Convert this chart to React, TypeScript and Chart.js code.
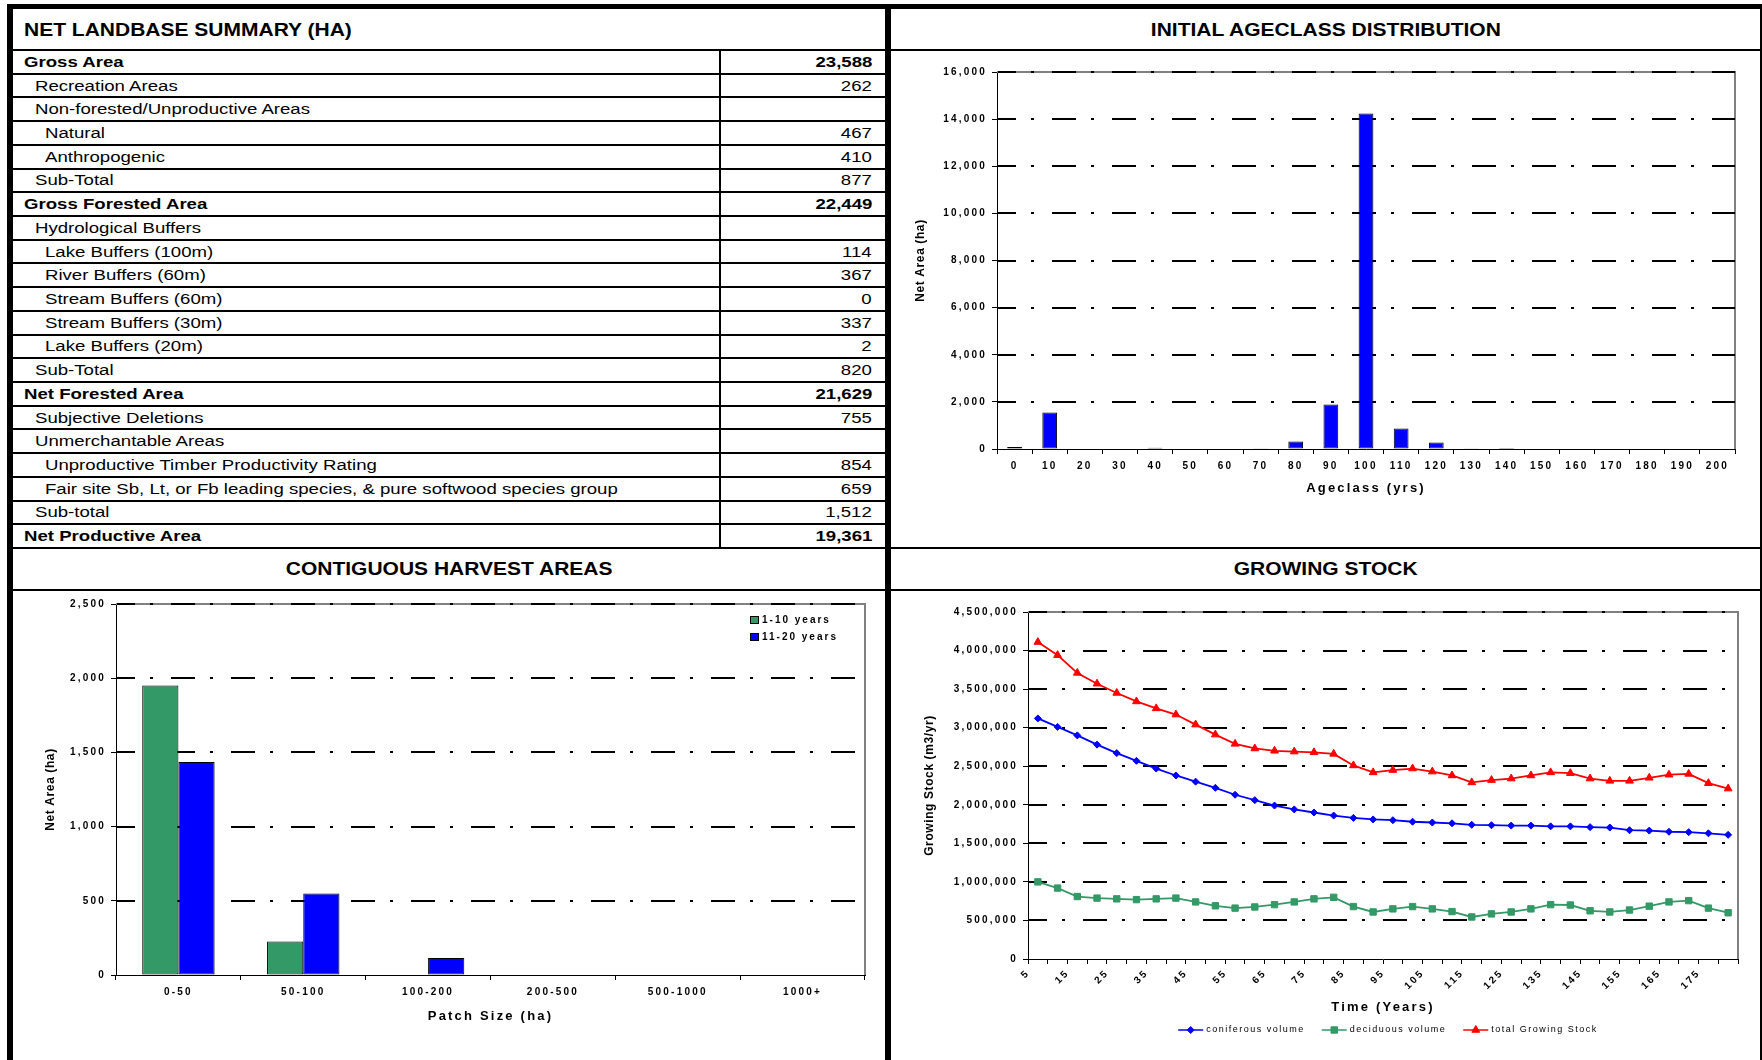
import React, { useEffect, useRef } from 'react';
import { Chart, registerables } from 'chart.js';

Chart.register(...registerables);

const FONT = '"Liberation Sans", Arial, Helvetica, sans-serif';

// ---------- Net landbase summary table ----------
const summaryLabels = [
  'Gross Area',
  'Recreation Areas',
  'Non-forested/Unproductive Areas',
  'Natural',
  'Anthropogenic',
  'Sub-Total',
  'Gross Forested Area',
  'Hydrological Buffers',
  'Lake Buffers (100m)',
  'River Buffers (60m)',
  'Stream Buffers (60m)',
  'Stream Buffers (30m)',
  'Lake Buffers (20m)',
  'Sub-Total',
  'Net Forested Area',
  'Subjective Deletions',
  'Unmerchantable Areas',
  'Unproductive Timber Productivity Rating',
  'Fair site Sb, Lt, or Fb leading species, & pure softwood species group',
  'Sub-total',
  'Net Productive Area',
];
const summaryValues = [
  '23,588', '262', '', '467', '410', '877', '22,449', '', '114', '367', '0',
  '337', '2', '820', '21,629', '755', '', '854', '659', '1,512', '19,361',
];
const summaryIndent = [0, 1, 1, 2, 2, 1, 0, 1, 2, 2, 2, 2, 2, 1, 0, 1, 1, 2, 2, 1, 0];

// ---------- Initial ageclass distribution ----------
const ageClasses = ['0', '10', '20', '30', '40', '50', '60', '70', '80', '90', '100', '110', '120', '130', '140', '150', '160', '170', '180', '190', '200'];
const ageClassArea = [85, 1550, 25, 0, 55, 25, 25, 35, 320, 1885, 14240, 870, 280, 30, 45, 0, 0, 0, 0, 0, 0];
const ageAxisMax = 16000;
const ageAxisStep = 2000;

// ---------- Contiguous harvest areas ----------
const patchSizes = ['0-50', '50-100', '100-200', '200-500', '500-1000', '1000+'];
const harvest1to10 = [1950, 225, 0, 0, 0, 0];
const harvest11to20 = [1435, 550, 115, 0, 0, 0];
const harvestAxisMax = 2500;
const harvestAxisStep = 500;

// ---------- Growing stock ----------
const timeYears = ['5', '10', '15', '20', '25', '30', '35', '40', '45', '50', '55', '60', '65', '70', '75', '80', '85', '90', '95', '100', '105', '110', '115', '120', '125', '130', '135', '140', '145', '150', '155', '160', '165', '170', '175', '180'];
const coniferousVolume = [3120000, 3010000, 2900000, 2780000, 2670000, 2570000, 2470000, 2380000, 2300000, 2220000, 2130000, 2060000, 1990000, 1940000, 1900000, 1860000, 1830000, 1810000, 1800000, 1780000, 1770000, 1760000, 1740000, 1735000, 1730000, 1730000, 1720000, 1720000, 1710000, 1705000, 1670000, 1665000, 1650000, 1645000, 1630000, 1610000];
const deciduousVolume = [1000000, 920000, 810000, 790000, 780000, 770000, 780000, 790000, 740000, 690000, 660000, 675000, 705000, 740000, 780000, 800000, 680000, 610000, 650000, 680000, 650000, 615000, 545000, 585000, 610000, 650000, 705000, 700000, 625000, 610000, 635000, 685000, 740000, 757000, 660000, 600000];
const totalGrowingStock = [4110000, 3940000, 3710000, 3570000, 3450000, 3340000, 3250000, 3170000, 3040000, 2910000, 2790000, 2730000, 2700000, 2690000, 2680000, 2660000, 2510000, 2420000, 2450000, 2470000, 2430000, 2380000, 2290000, 2320000, 2340000, 2380000, 2420000, 2410000, 2340000, 2310000, 2310000, 2350000, 2390000, 2400000, 2280000, 2210000];
const stockAxisMax = 4500000;
const stockAxisStep = 500000;

// ---------- helpers ----------
const fmt = (v: any) => Number(v).toLocaleString('en-US');
const tickFont = { family: FONT, size: 10, weight: 'bold' as const };
const axisTitleFont = { family: FONT, size: 13, weight: 'bold' as const };
const yTitleFont = { family: FONT, size: 12, weight: 'bold' as const };

const spacingPlugin = (px: number, yTitlePx: number) => ({
  id: 'letterSpacing',
  beforeUpdate(chart: any) { chart.ctx.letterSpacing = px + 'px'; },
  beforeLayout(chart: any) { chart.ctx.letterSpacing = px + 'px'; },
  afterLayout(chart: any) {
    const s = chart.scales.y;
    if (s && !s.__wrappedTitle) {
      const orig = s.drawTitle.bind(s);
      s.drawTitle = function () {
        const ctx = chart.ctx;
        const prev = ctx.letterSpacing;
        ctx.letterSpacing = yTitlePx + 'px';
        orig();
        ctx.letterSpacing = prev;
      };
      s.__wrappedTitle = true;
    }
  },
  beforeDraw(chart: any) { chart.ctx.letterSpacing = px + 'px'; },
});

const framePlugin = {
  id: 'excelFrame',
  beforeDatasetsDraw(chart: any) {
    const { ctx, chartArea } = chart;
    const { left, right, top, bottom } = chartArea;
    const y = chart.scales.y;
    ctx.save();
    ctx.strokeStyle = '#808080';
    ctx.lineWidth = 2;
    ctx.beginPath();
    ctx.moveTo(left, top);
    ctx.lineTo(right, top);
    ctx.lineTo(right, bottom);
    ctx.stroke();
    ctx.strokeStyle = '#000';
    ctx.lineWidth = 2;
    ctx.setLineDash([24, 15, 3, 18]);
    ctx.lineDashOffset = 6;
    y.ticks.forEach((t: any) => {
      if (t.value === 0) return;
      const py = Math.round(y.getPixelForValue(t.value));
      ctx.beginPath();
      ctx.moveTo(left + 1, py);
      ctx.lineTo(right, py);
      ctx.stroke();
    });
    ctx.restore();
  },
};

function drawMarker(ctx: CanvasRenderingContext2D, style: string, x: number, y: number, color: string) {
  ctx.save();
  ctx.fillStyle = color;
  ctx.strokeStyle = color;
  ctx.lineWidth = 1;
  ctx.setLineDash([]);
  ctx.beginPath();
  if (style === 'rectRot') {
    const r = 3.5;
    ctx.moveTo(x - r, y); ctx.lineTo(x, y - r); ctx.lineTo(x + r, y); ctx.lineTo(x, y + r);
  } else if (style === 'rect') {
    const s = 3.2;
    ctx.rect(x - s, y - s, 2 * s, 2 * s);
  } else {
    const r = 4.5;
    ctx.moveTo(x, y - r); ctx.lineTo(x + r * 0.866, y + r / 2); ctx.lineTo(x - r * 0.866, y + r / 2);
  }
  ctx.closePath();
  ctx.fill();
  ctx.stroke();
  ctx.restore();
}

const stockLegendPlugin = {
  id: 'stockLegend',
  afterDraw(chart: any) {
    const ctx = chart.ctx as CanvasRenderingContext2D;
    ctx.save();
    (ctx as any).letterSpacing = '1.5px';
    ctx.font = `9px ${FONT}`;
    const cx = (chart.chartArea.left + chart.chartArea.right) / 2 + 5;
    const y = chart.height - 30;
    const items = chart.data.datasets.map((ds: any) => ({ text: ds.label, color: ds.borderColor, style: ds.pointStyle }));
    const widths = items.map((it: any) => ctx.measureText(it.text).width);
    const lineLen = 25, gap = 3, itemGap = 17;
    const total = widths.reduce((a: number, w: number) => a + lineLen + gap + w, 0) + itemGap * (items.length - 1);
    let x = cx - total / 2;
    items.forEach((it: any, i: number) => {
      ctx.strokeStyle = it.color;
      ctx.lineWidth = 1.5;
      ctx.beginPath();
      ctx.moveTo(x, y);
      ctx.lineTo(x + lineLen, y);
      ctx.stroke();
      drawMarker(ctx, it.style, x + lineLen / 2, y, it.color);
      ctx.fillStyle = '#000';
      ctx.textBaseline = 'middle';
      ctx.textAlign = 'left';
      ctx.fillText(it.text, x + lineLen + gap, y);
      x += lineLen + gap + widths[i] + itemGap;
    });
    ctx.restore();
  },
};

const harvestLegendPlugin = {
  id: 'harvestLegend',
  afterDraw(chart: any) {
    const ctx = chart.ctx as CanvasRenderingContext2D;
    ctx.save();
    (ctx as any).letterSpacing = '2px';
    ctx.font = `bold 10px ${FONT}`;
    const x0 = chart.chartArea.right - 115;
    chart.data.datasets.forEach((ds: any, i: number) => {
      const y = chart.chartArea.top + 16 + i * 17;
      ctx.fillStyle = ds.backgroundColor;
      ctx.fillRect(x0, y - 4, 9, 8);
      ctx.strokeStyle = '#000';
      ctx.lineWidth = 1;
      ctx.strokeRect(x0 + 0.5, y - 3.5, 8, 7);
      ctx.fillStyle = '#000';
      ctx.textBaseline = 'middle';
      ctx.textAlign = 'left';
      ctx.fillText(ds.label, x0 + 12, y);
    });
    ctx.restore();
  },
};

const baseOptions = (pad: any) => ({
  responsive: false,
  animation: false as const,
  devicePixelRatio: 1,
  events: [] as any[],
  layout: { padding: pad },
  plugins: { legend: { display: false }, tooltip: { enabled: false } },
});

const xGrid = { offset: true, drawOnChartArea: false, drawTicks: true, tickLength: 5, color: '#000' };
const yGrid = { drawOnChartArea: false, drawTicks: true, tickLength: 5, color: '#000' };
const axisBorder = { display: true, color: '#000', width: 1 };

function makeAgeChart(canvas: HTMLCanvasElement) {
  return new Chart(canvas, {
    type: 'bar',
    data: {
      labels: ageClasses,
      datasets: [{
        label: 'Net Area',
        data: ageClassArea,
        backgroundColor: '#0000FF',
        borderColor: '#000',
        borderWidth: 1,
        borderSkipped: false,
        categoryPercentage: 1,
        barPercentage: 0.42,
      }],
    },
    options: {
      ...baseOptions({ left: 0, top: 20, right: 25, bottom: 0 }),
      scales: {
        x: {
          grid: xGrid, border: axisBorder,
          ticks: { font: tickFont, color: '#000', padding: 6, maxRotation: 0, minRotation: 0, autoSkip: false },
          title: { display: true, text: 'Ageclass (yrs)', color: '#000', font: axisTitleFont, padding: { top: 0, bottom: 50 } },
          afterFit: (s: any) => { s.height = 97; },
        },
        y: {
          min: 0, max: ageAxisMax,
          grid: yGrid, border: axisBorder,
          ticks: { stepSize: ageAxisStep, font: tickFont, color: '#000', padding: 5, callback: fmt },
          title: { display: true, text: 'Net Area (ha)', color: '#000', font: yTitleFont, padding: { top: 22, bottom: 0 } },
          afterFit: (s: any) => { s.width = 106; },
        },
      },
    } as any,
    plugins: [spacingPlugin(2.2, 0.6), framePlugin],
  });
}

function makeHarvestChart(canvas: HTMLCanvasElement) {
  return new Chart(canvas, {
    type: 'bar',
    data: {
      labels: patchSizes,
      datasets: [
        { label: '1-10 years', data: harvest1to10, backgroundColor: '#339966', borderColor: '#000', borderWidth: 1, borderSkipped: false, categoryPercentage: 0.58, barPercentage: 1 },
        { label: '11-20 years', data: harvest11to20, backgroundColor: '#0000FF', borderColor: '#000', borderWidth: 1, borderSkipped: false, categoryPercentage: 0.58, barPercentage: 1 },
      ],
    },
    options: {
      ...baseOptions({ left: 0, top: 12, right: 20, bottom: 0 }),
      scales: {
        x: {
          grid: xGrid, border: axisBorder,
          ticks: { font: tickFont, color: '#000', padding: 6, maxRotation: 0, minRotation: 0, autoSkip: false },
          title: { display: true, text: 'Patch Size (ha)', color: '#000', font: axisTitleFont, padding: { top: 0, bottom: 36 } },
          afterFit: (s: any) => { s.height = 85; },
        },
        y: {
          min: 0, max: harvestAxisMax,
          grid: yGrid, border: axisBorder,
          ticks: { stepSize: harvestAxisStep, font: tickFont, color: '#000', padding: 5, callback: fmt },
          title: { display: true, text: 'Net Area (ha)', color: '#000', font: yTitleFont, padding: { top: 30, bottom: 0 } },
          afterFit: (s: any) => { s.width = 103; },
        },
      },
    } as any,
    plugins: [spacingPlugin(2.2, 0.6), framePlugin, harvestLegendPlugin],
  });
}

function makeStockChart(canvas: HTMLCanvasElement) {
  const lineDs = (label: string, data: number[], color: string, style: string, radius: number) => ({
    label, data,
    borderColor: color, backgroundColor: color,
    borderWidth: 1.8,
    pointStyle: style, pointRadius: radius,
    pointBackgroundColor: color, pointBorderColor: color, pointBorderWidth: 1,
    tension: 0,
  });
  return new Chart(canvas, {
    type: 'line',
    data: {
      labels: timeYears,
      datasets: [
        lineDs('coniferous volume', coniferousVolume, '#0000FF', 'rectRot', 3.5),
        lineDs('deciduous volume', deciduousVolume, '#339966', 'rect', 4.5),
        lineDs('total Growing Stock', totalGrowingStock, '#FF0000', 'triangle', 4.5),
      ],
    },
    options: {
      ...baseOptions({ left: 0, top: 20, right: 22, bottom: 0 }),
      scales: {
        x: {
          type: 'category',
          offset: true,
          grid: xGrid, border: axisBorder,
          ticks: {
            font: tickFont, color: '#000', padding: 3, minRotation: 45, maxRotation: 45, autoSkip: false,
            labelOffset: -9.5,
            callback: function (this: any, v: any, i: number) { return i % 2 === 0 ? this.getLabelForValue(v) : ''; },
          },
          title: { display: true, text: 'Time (Years)', color: '#000', font: axisTitleFont, padding: { top: 0, bottom: 45 } },
          afterFit: (s: any) => { s.height = 101; },
        },
        y: {
          min: 0, max: stockAxisMax,
          grid: yGrid, border: axisBorder,
          ticks: { stepSize: stockAxisStep, font: tickFont, color: '#000', padding: 5, callback: fmt },
          title: { display: true, text: 'Growing Stock (m3/yr)', color: '#000', font: yTitleFont, padding: { top: 31, bottom: 0 } },
          afterFit: (s: any) => { s.width = 137; },
        },
      },
    } as any,
    plugins: [spacingPlugin(2.2, 0.6), framePlugin, stockLegendPlugin],
  });
}

function ChartBox({ left, top, width, height, make }: { left: number; top: number; width: number; height: number; make: (c: HTMLCanvasElement) => Chart }) {
  const ref = useRef<HTMLCanvasElement>(null);
  useEffect(() => {
    const chart = make(ref.current as HTMLCanvasElement);
    return () => chart.destroy();
  }, []);
  return (
    <canvas
      ref={ref}
      width={width}
      height={height}
      style={{ position: 'absolute', left, top, width, height, display: 'block' }}
    />
  );
}

const black = '#000';

function Bar({ l, t, w, h }: { l: number; t: number; w: number; h: number }) {
  return <div style={{ position: 'absolute', left: l, top: t, width: w, height: h, background: black }} />;
}

function PanelTitle({ l, t, w, h, text, center }: { l: number; t: number; w: number; h: number; text: string; center?: boolean }) {
  return (
    <div style={{ position: 'absolute', left: l, top: t, width: w, height: h, display: 'flex', alignItems: 'center', justifyContent: center ? 'center' : 'flex-start' }}>
      <span style={{
        display: 'inline-block', fontWeight: 700, fontSize: 17.5, lineHeight: 1, whiteSpace: 'nowrap',
        transform: 'scaleX(1.2)', transformOrigin: center ? 'center center' : 'left center',
        marginLeft: center ? 0 : 11,
      }}>{text}</span>
    </div>
  );
}

export default function App() {
  const tableTop = 50;
  const tableBottom = 548;
  const rowH = (tableBottom - tableTop) / summaryLabels.length;
  const indentX = [11, 22, 32];

  return (
    <div style={{ position: 'absolute', left: 0, top: 0, width: 1762, height: 1060, background: '#fff', overflow: 'hidden', fontFamily: FONT, color: '#000' }}>
      {/* Titles */}
      <PanelTitle l={13} t={11} w={872} h={40} text="NET LANDBASE SUMMARY (HA)" />
      <PanelTitle l={891} t={11} w={869} h={40} text="INITIAL AGECLASS DISTRIBUTION" center />
      <PanelTitle l={13} t={550} w={872} h={40} text="CONTIGUOUS HARVEST AREAS" center />
      <PanelTitle l={891} t={550} w={869} h={40} text="GROWING STOCK" center />

      {/* Table rows */}
      {summaryLabels.map((label, i) => {
        const top = tableTop + i * rowH;
        const bold = summaryIndent[i] === 0;
        return (
          <div key={i} style={{ position: 'absolute', left: 13, top, width: 872, height: rowH }}>
            <span style={{
              position: 'absolute', left: indentX[summaryIndent[i]], top: '50%',
              transform: 'translateY(-50%) scaleX(1.2)', transformOrigin: 'left center',
              whiteSpace: 'nowrap', fontSize: 15.5, lineHeight: 1, fontWeight: bold ? 700 : 400,
            }}>{label}</span>
            <span style={{
              position: 'absolute', right: 13, top: '50%',
              transform: 'translateY(-50%) scaleX(1.2)', transformOrigin: 'right center',
              whiteSpace: 'nowrap', fontSize: 15.5, lineHeight: 1, fontWeight: bold ? 700 : 400,
            }}>{summaryValues[i]}</span>
          </div>
        );
      })}
      {summaryLabels.map((_, i) => (
        <Bar key={'rl' + i} l={13} t={Math.round(tableTop + (i + 1) * rowH) - 1} w={872} h={2} />
      ))}
      <Bar l={719} t={tableTop} w={2} h={tableBottom - tableTop} />

      {/* Frame lines */}
      <Bar l={7} t={4} w={1755} h={5} />
      <Bar l={7} t={4} w={6} h={1056} />
      <Bar l={885} t={4} w={6} h={1056} />
      <Bar l={1760} t={4} w={2} h={1056} />
      <Bar l={13} t={49} w={872} h={2} />
      <Bar l={891} t={49} w={869} h={2} />
      <Bar l={891} t={547} w={869} h={2} />
      <Bar l={13} t={589} w={1747} h={2} />

      {/* Charts */}
      <ChartBox left={891} top={52} width={869} height={494} make={makeAgeChart} />
      <ChartBox left={13} top={592} width={872} height={468} make={makeHarvestChart} />
      <ChartBox left={891} top={592} width={869} height={468} make={makeStockChart} />
    </div>
  );
}
